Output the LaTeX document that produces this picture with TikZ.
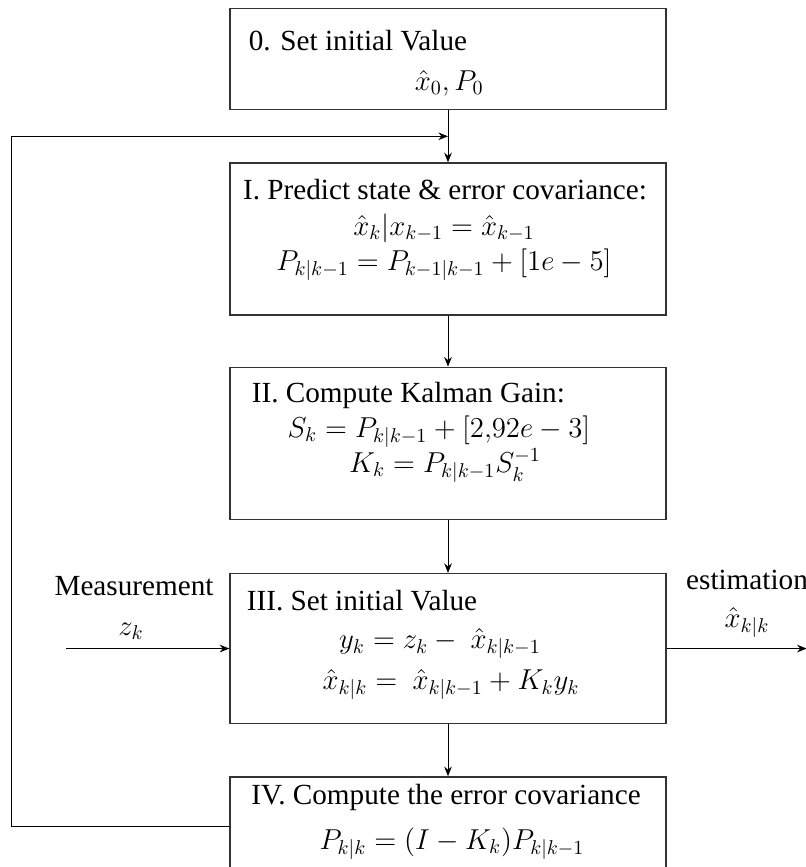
\documentclass[tikz,border=0pt]{standalone}
\usepackage{fontspec}
\setmainfont{Liberation Serif}
\usepackage{amsmath}
\usetikzlibrary{positioning, arrows.meta}
\definecolor{boxLine}{HTML}{333333}

\begin{document}
\begin{tikzpicture}[
    ->,>={Stealth[length=4.8pt,width=3.8pt]},
    line width=0.5pt,
    block/.style={draw=boxLine, line width=0.65pt, rectangle, minimum width=218pt, minimum height=76pt, inner sep=0pt},
    txt/.style={font=\fontsize{14.6pt}{17pt}\selectfont, inner sep=0pt}
]
    \useasboundingbox (0,0) rectangle (403pt,-433.5pt);
    \clip (0,0) rectangle (403pt,-433.5pt);

    % steps of the filter
    \node[block, minimum height=50.5pt, anchor=north] (s0) at (224pt,-4pt) {};
    \node[block, below=26pt of s0] (s1) {};
    \node[block, below=25.5pt of s1] (s2) {};
    \node[block, below=26.5pt of s2, minimum height=75pt] (s3) {};
    \node[block, below=26pt of s3, minimum height=50pt] (s4) {};

    \node[txt, anchor=base west] (t0) at ([shift={(9.5pt,-21pt)}]s0.north west) {0. Set initial Value};
    \node[txt, anchor=base west] (e0) at ([shift={(92.5pt,-41pt)}]s0.north west) {$\hat{x}_0, P_0$};

    \node[txt, anchor=base] (t1) at ([shift={(-1.5pt,-18.5pt)}]s1.north) {I. Predict state \& error covariance:};
    \node[txt, anchor=base] (e1a) at ([shift={(-2pt,-36.5pt)}]s1.north) {$\hat{x}_k|x_{k-1} = \hat{x}_{k-1}$};
    \node[txt, anchor=base] (e1b) at ([shift={(-2pt,-54pt)}]s1.north) {$P_{k|k-1} = P_{k-1|k-1} + [1e-5]$};

    \node[txt, anchor=base west] (t2) at ([shift={(11pt,-18pt)}]s2.north west) {II. Compute Kalman Gain:};
    \node[txt, anchor=base] (e2a) at ([shift={(-4.5pt,-35.5pt)}]s2.north) {$S_k = P_{k|k-1} + [2{,}92e-3]$};
    \node[txt, anchor=base] (e2b) at ([shift={(-1.5pt,-53pt)}]s2.north) {$K_k = P_{k|k-1}S_k^{-1}$};

    \node[txt, anchor=base west] (t3) at ([shift={(8.5pt,-19pt)}]s3.north west) {III. Set initial Value};
    \node[txt, anchor=base] (e3a) at ([shift={(-4pt,-38pt)}]s3.north) {$y_k = z_k -\ \hat{x}_{k|k-1}$};
    \node[txt, anchor=base] (e3b) at ([shift={(1.5pt,-58.5pt)}]s3.north) {$\hat{x}_{k|k} =\ \hat{x}_{k|k-1} + K_k y_k$};

    \node[txt, anchor=base] (t4) at ([shift={(-1pt,-14pt)}]s4.north) {IV. Compute the error covariance};
    \node[txt, anchor=base] (e4) at ([shift={(2pt,-36.5pt)}]s4.north) {$P_{k|k} = (I - K_k)P_{k|k-1}$};

    % input and output
    \node[txt, anchor=base] (meas) at (67pt,-297.5pt) {Measurement};
    \node[txt, anchor=base] (zk) at (65.5pt,-317.5pt) {$z_k$};
    \node[txt, anchor=base] (est) at (373.5pt,-294.5pt) {estimation};
    \node[txt, anchor=base] (xk) at (373.5pt,-313.5pt) {$\hat{x}_{k|k}$};

    \coordinate[left=81.5pt of s3.west] (zin);
    \coordinate[right=70pt of s3.east] (xout);
    \coordinate[left=109pt of s4.west] (loop);
    \path (s0.south) -- (s1.north) coordinate[midway] (fb);

    \draw (s0.south) -- (s1.north);
    \draw (s1.south) -- (s2.north);
    \draw (s2.south) -- (s3.north);
    \draw (s3.south) -- (s4.north);
    \draw (s4.west) -- (loop) |- (fb);
    \draw (zin) -- (s3.west);
    \draw (s3.east) -- (xout);
\end{tikzpicture}
\end{document}
